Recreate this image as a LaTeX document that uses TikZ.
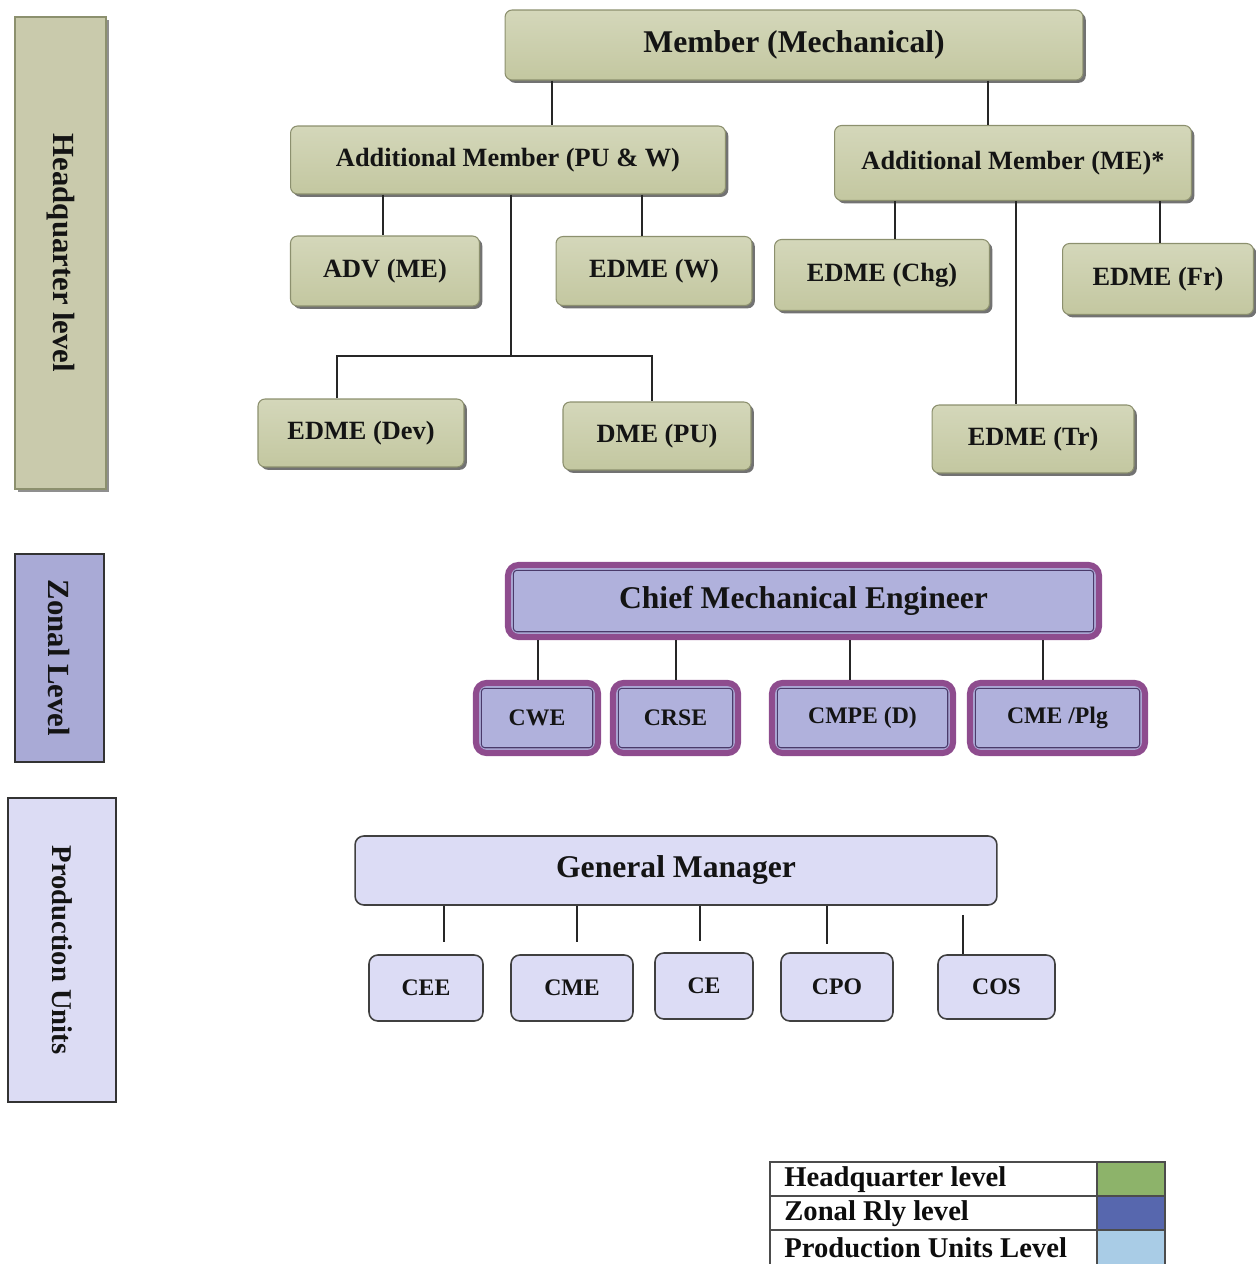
\documentclass[tikz,border=0pt]{standalone}
\usepackage{fontspec}
\usepackage{graphicx}
\setmainfont{Liberation Serif}
\usetikzlibrary{shadows}
\definecolor{hqfill}{HTML}{C3C7A0}
\definecolor{hqtop}{HTML}{D4D7BA}
\definecolor{hqedge}{HTML}{8C906E}
\definecolor{plum}{HTML}{8E4C8E}
\definecolor{zfill}{HTML}{B0B1DC}
\definecolor{zline}{HTML}{4A3A6A}
\definecolor{pfill}{HTML}{DCDCF5}
\definecolor{hqbar}{HTML}{C9CAAC}
\definecolor{zbar}{HTML}{A9AAD6}
\definecolor{pbar}{HTML}{DCDCF4}
\definecolor{lgreen}{HTML}{8DB36A}
\definecolor{lblue}{HTML}{5767AE}
\definecolor{llight}{HTML}{A9CCE6}
\begin{document}
\begin{tikzpicture}[x=0.02cm,y=-0.02cm,
  conn/.style={draw=black!85,line width=0.8pt},
  hqbox/.style={draw=hqedge,line width=0.6pt,rounded corners=4pt,top color=hqtop,bottom color=hqfill,
    drop shadow={shadow xshift=1.6pt,shadow yshift=-1.6pt,fill=black!65,opacity=0.85},
    text=black!92,inner sep=0pt,font=\bfseries\fontsize{15}{17}\selectfont},
  zbox/.style={draw=plum,line width=3.5pt,fill=zfill,rounded corners=6pt,inner sep=0pt,text=black!92,
    font=\bfseries\fontsize{13.5}{15}\selectfont,
    path picture={\draw[zline,line width=0.6pt,rounded corners=2pt]
      ([shift={(3pt,-3pt)}]path picture bounding box.north west) rectangle
      ([shift={(-3pt,3pt)}]path picture bounding box.south east);}},
  pbox/.style={draw=black!75,line width=0.9pt,fill=pfill,rounded corners=5pt,inner sep=0pt,text=black!92,
    font=\bfseries\fontsize{13.5}{15}\selectfont},
  sidebar/.style={draw=black!80,line width=0.9pt,inner sep=0pt,text=black!92,
    font=\bfseries\fontsize{17.5}{19}\selectfont},
  legtext/.style={anchor=west,inner sep=0pt,text=black!95,font=\bfseries\fontsize{16.3}{18}\selectfont},
  legline/.style={draw=black!70,line width=0.7pt}]
\useasboundingbox (0,0) rectangle (1256,1264);

% ---- side bars ----
\node[sidebar,draw=hqedge,fill=hqbar,minimum width=1.82cm,minimum height=9.44cm,
  drop shadow={shadow xshift=1.6pt,shadow yshift=-1.6pt,fill=black!55,opacity=0.8}] (hqbar) at (60.5,253) {\rotatebox{-90}{Headquarter level}};
\node[sidebar,fill=zbar,minimum width=1.78cm,minimum height=4.16cm] (zbar) at (59.5,658) {\rotatebox{-90}{Zonal Level}};
\node[sidebar,fill=pbar,minimum width=2.16cm,minimum height=6.08cm,font=\bfseries\fontsize{16.3}{18}\selectfont] (pbar) at (62,950) {\rotatebox{-90}{Production Units}};

% ---- headquarter ----
\node[hqbox,minimum width=11.56cm,minimum height=1.4cm,font=\bfseries\fontsize{18}{20}\selectfont] (mm) at (794,45) {Member (Mechanical)};
\node[hqbox,minimum width=8.7cm,minimum height=1.36cm] (amp) at (508,160) {Additional Member (PU \& W)};
\node[hqbox,minimum width=7.14cm,minimum height=1.5cm] (amm) at (1013,163) {Additional Member (ME)*};
\node[hqbox,minimum width=3.78cm,minimum height=1.4cm] (adv) at (385,271) {ADV (ME)};
\node[hqbox,minimum width=3.92cm,minimum height=1.38cm] (edw) at (654,271) {EDME (W)};
\node[hqbox,minimum width=4.3cm,minimum height=1.42cm] (chg) at (882,275) {EDME (Chg)};
\node[hqbox,minimum width=3.82cm,minimum height=1.42cm] (efr) at (1158,279) {EDME (Fr)};
\node[hqbox,minimum width=4.12cm,minimum height=1.36cm] (dev) at (361,433) {EDME (Dev)};
\node[hqbox,minimum width=3.76cm,minimum height=1.36cm] (dpu) at (657,436) {DME (PU)};
\node[hqbox,minimum width=4.04cm,minimum height=1.36cm] (etr) at (1033,439) {EDME (Tr)};

\coordinate (a1) at (552,0);
\coordinate (a2) at (988,0);
\coordinate (a3) at (383,0);
\coordinate (a4) at (642,0);
\coordinate (a5) at (511,0);
\coordinate (j1) at (511,356);
\coordinate (b1) at (337,0);
\coordinate (b2) at (652,0);
\coordinate (a6) at (895,0);
\coordinate (a7) at (1160,0);
\coordinate (a8) at (1016,0);
\draw[conn] (a1 |- mm.south) -- (a1 |- amp.north);
\draw[conn] (a2 |- mm.south) -- (a2 |- amm.north);
\draw[conn] (a3 |- amp.south) -- (a3 |- adv.north);
\draw[conn] (a4 |- amp.south) -- (a4 |- edw.north);
\draw[conn] (a5 |- amp.south) -- (j1);
\draw[conn] (b1 |- dev.north) |- (j1) -| (b2 |- dpu.north);
\draw[conn] (a6 |- amm.south) -- (a6 |- chg.north);
\draw[conn] (a7 |- amm.south) -- (a7 |- efr.north);
\draw[conn] (a8 |- amm.south) -- (a8 |- etr.north);

% ---- zonal ----
\node[zbox,minimum width=11.82cm,minimum height=1.44cm,font=\bfseries\fontsize{18}{20}\selectfont] (cme) at (803.5,601) {Chief Mechanical Engineer};
\node[zbox,minimum width=2.44cm,minimum height=1.4cm] (cwe) at (537,718) {CWE};
\node[zbox,minimum width=2.5cm,minimum height=1.4cm] (crse) at (675.5,718) {CRSE};
\node[zbox,minimum width=3.62cm,minimum height=1.4cm] (cmpe) at (862.5,718) {CMPE (D)};
\node[zbox,minimum width=3.5cm,minimum height=1.4cm] (plg) at (1057.5,718) {CME /Plg};
\coordinate (z1) at (538,0);
\coordinate (z2) at (676,0);
\coordinate (z3) at (850,0);
\coordinate (z4) at (1043,0);
\draw[conn] (z1 |- cme.south) -- (z1 |- cwe.north);
\draw[conn] (z2 |- cme.south) -- (z2 |- crse.north);
\draw[conn] (z3 |- cme.south) -- (z3 |- cmpe.north);
\draw[conn] (z4 |- cme.south) -- (z4 |- plg.north);

% ---- production units ----
\node[pbox,minimum width=12.84cm,minimum height=1.38cm,font=\bfseries\fontsize{18}{20}\selectfont] (gm) at (676,870.5) {General Manager};
\node[pbox,minimum width=2.28cm,minimum height=1.32cm] (cee) at (426,988) {CEE};
\node[pbox,minimum width=2.44cm,minimum height=1.32cm] (pcme) at (572,988) {CME};
\node[pbox,minimum width=1.96cm,minimum height=1.32cm] (ce) at (704,986) {CE};
\node[pbox,minimum width=2.24cm,minimum height=1.36cm] (cpo) at (837,987) {CPO};
\node[pbox,minimum width=2.34cm,minimum height=1.28cm] (cos) at (996.5,987) {COS};
\coordinate (p1) at (444,0);
\coordinate (p2) at (577,0);
\coordinate (p3) at (700,0);
\coordinate (p4) at (827,0);
\coordinate (p5) at (963,0);
\draw[conn,shorten >=0.24cm] (p1 |- gm.south) -- (p1 |- cee.north);
\draw[conn,shorten >=0.24cm] (p2 |- gm.south) -- (p2 |- pcme.north);
\draw[conn,shorten >=0.22cm] (p3 |- gm.south) -- (p3 |- ce.north);
\draw[conn,shorten >=0.16cm] (p4 |- gm.south) -- (p4 |- cpo.north);
\draw[conn,shorten <=0.18cm] (p5 |- gm.south) -- (p5 |- cos.north);

% ---- legend ----
\fill[lgreen] (1097,1162) rectangle (1165,1196);
\fill[lblue] (1097,1196) rectangle (1165,1230);
\fill[llight] (1097,1230) rectangle (1165,1264);
\draw[legline] (770,1264) -- (770,1162) -- (1165,1162) -- (1165,1264);
\draw[legline] (770,1196) -- (1165,1196);
\draw[legline] (770,1230) -- (1165,1230);
\draw[legline] (1097,1162) -- (1097,1264);
\node[legtext] (l1) at (784,1180) {Headquarter level};
\node[legtext] (l2) at (784,1214) {Zonal Rly level};
\node[legtext] (l3) at (784,1248) {Production Units Level};
\end{tikzpicture}
\end{document}
